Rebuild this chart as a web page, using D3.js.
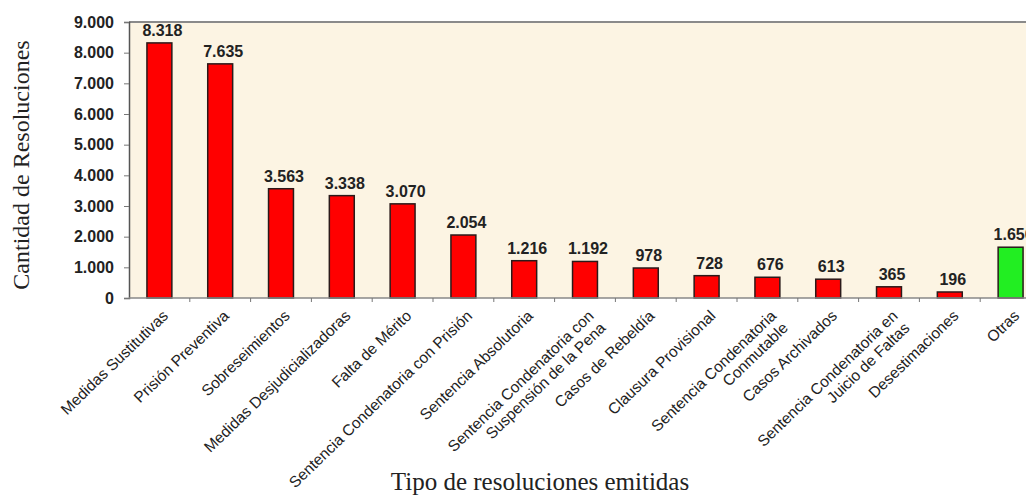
<!DOCTYPE html>
<html>
<head>
<meta charset="utf-8">
<script src="https://cdn.jsdelivr.net/npm/d3@7"></script>
<style>
  body { margin: 0; background: #fff; }
  svg { display: block; }
</style>
</head>
<body>
<div class="chart"></div>
<script>
// categories (line breaks where the original wraps)
var categories = [
    "Medidas Sustitutivas",
    "Prisión Preventiva",
    "Sobreseimientos",
    "Medidas Desjudicializadoras",
    "Falta de Mérito",
    "Sentencia Condenatoria con Prisión",
    "Sentencia Absolutoria",
    "Sentencia Condenatoria con\nSuspensión de la Pena",
    "Casos de Rebeldía",
    "Clausura Provisional",
    "Sentencia Condenatoria\nConmutable",
    "Casos Archivados",
    "Sentencia Condenatoria en\nJuicio de Faltas",
    "Desestimaciones",
    "Otras"
];
var values = [8318, 7635, 3563, 3338, 3070, 2054, 1216, 1192, 978, 728, 676, 613, 365, 196, 1656];
var yTicks = [0, 1000, 2000, 3000, 4000, 5000, 6000, 7000, 8000, 9000];

var W = 1026, H = 495;
var plotLeft = 129, plotTop = 22, plotBottom = 298;
var step = 60.8;

var svg = d3.select(".chart")
    .append("svg")
    .attr("width", W)
    .attr("height", H);

var fmt = function (v) { return d3.format(",")(v).replace(/,/g, "."); };

var x = d3.scaleBand()
    .domain(categories)
    .range([plotLeft, plotLeft + step * categories.length])
    .paddingInner(0.59)
    .paddingOuter(0.295);

var y = d3.scaleLinear()
    .domain([0, 9000])
    .range([plotBottom, plotTop]);

// plot background
svg.append("rect")
    .attr("x", plotLeft)
    .attr("y", plotTop)
    .attr("width", step * categories.length)
    .attr("height", plotBottom - plotTop)
    .attr("fill", "#fcf4e3");

// top border
svg.append("line")
    .attr("x1", plotLeft).attr("x2", W)
    .attr("y1", plotTop).attr("y2", plotTop)
    .attr("stroke", "#8a8a8a")
    .attr("stroke-width", 2);

// bars
svg.selectAll(".bar")
    .data(values)
    .enter().append("rect")
    .attr("class", "bar")
    .attr("x", function (d, i) { return x(categories[i]); })
    .attr("y", function (d) { return y(d); })
    .attr("width", x.bandwidth())
    .attr("height", function (d) { return plotBottom - y(d); })
    .attr("fill", function (d, i) { return categories[i] == "Otras" ? "#22ee22" : "#ff0000"; })
    .attr("stroke", "#2a1a1a")
    .attr("stroke-width", 1.5);

// value labels
svg.selectAll(".val")
    .data(values)
    .enter().append("text")
    .attr("class", "val")
    .attr("x", function (d, i) { return x(categories[i]) + x.bandwidth() / 2 + 3; })
    .attr("y", function (d) { return y(d) - 7; })
    .attr("text-anchor", "middle")
    .style("font-family", "Arial, 'Liberation Sans', sans-serif")
    .style("font-weight", "bold")
    .style("font-size", "16px")
    .attr("fill", "#222")
    .text(function (d) { return fmt(d); });

// y axis
var yAxis = svg.append("g")
    .attr("transform", "translate(" + plotLeft + ",0)")
    .call(d3.axisLeft(y).tickValues(yTicks).tickSize(5).tickPadding(10).tickFormat(fmt));
yAxis.select(".domain").attr("stroke", "#555").attr("stroke-width", 1.5);
yAxis.selectAll(".tick line").attr("stroke", "#777");
yAxis.selectAll("text")
    .style("font-family", "Arial, 'Liberation Sans', sans-serif")
    .style("font-weight", "bold")
    .style("font-size", "16px")
    .attr("fill", "#222");

// x axis line and ticks between categories
svg.append("line")
    .attr("x1", plotLeft).attr("x2", W)
    .attr("y1", plotBottom).attr("y2", plotBottom)
    .attr("stroke", "#888")
    .attr("stroke-width", 1.5);
svg.selectAll(".xtick")
    .data(categories.slice(1))
    .enter().append("line")
    .attr("class", "xtick")
    .attr("x1", function (d) { return x(d) - x.step() * x.paddingInner() / 2; })
    .attr("x2", function (d) { return x(d) - x.step() * x.paddingInner() / 2; })
    .attr("y1", plotBottom)
    .attr("y2", plotBottom + 4)
    .attr("stroke", "#777");

// rotated category labels
var lab = svg.selectAll(".xlab")
    .data(categories)
    .enter().append("text")
    .attr("class", "xlab")
    .attr("transform", function (d) {
        return "translate(" + (x(d) + x.bandwidth() / 2 + 6) + "," + (plotBottom + 15) + ") rotate(-44)";
    })
    .attr("text-anchor", "end")
    .style("font-family", "Arial, 'Liberation Sans', sans-serif")
    .style("font-size", "15.5px")
    .attr("fill", "#222");
lab.each(function (d) {
    var t = d3.select(this);
    d.split("\n").forEach(function (line, k) {
        t.append("tspan")
            .attr("x", 0)
            .attr("dy", k == 0 ? "0.35em" : "17px")
            .text(line);
    });
});

// axis titles
svg.append("text")
    .attr("transform", "translate(29,165) rotate(-90)")
    .attr("text-anchor", "middle")
    .style("font-family", "'Liberation Serif', 'Times New Roman', serif")
    .style("font-size", "24px")
    .attr("fill", "#222")
    .text("Cantidad de Resoluciones");

svg.append("text")
    .attr("x", 540)
    .attr("y", 490)
    .attr("text-anchor", "middle")
    .style("font-family", "'Liberation Serif', 'Times New Roman', serif")
    .style("font-size", "25px")
    .attr("fill", "#222")
    .text("Tipo de resoluciones emitidas");
</script>
</body>
</html>
